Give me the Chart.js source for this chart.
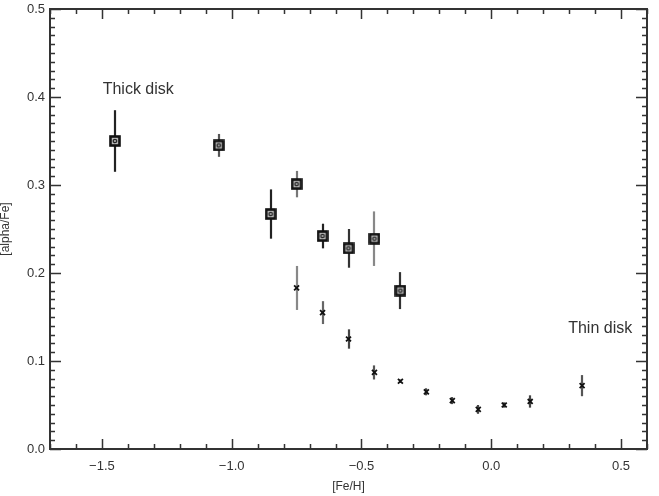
<!DOCTYPE html>
<html>
<head>
<meta charset="utf-8">
<script src="https://cdn.jsdelivr.net/npm/chart.js@4/dist/chart.umd.min.js"></script>
<style>
  html, body { margin: 0; padding: 0; background: #fff; }
  #wrap { width: 659px; height: 496px; }
</style>
</head>
<body>
<div id="wrap"><canvas id="alphaChart"></canvas></div>
<script>
// === DATA ===
const thickFeH = [-1.45, -1.05, -0.85, -0.75, -0.65, -0.55, -0.45, -0.35];
const thickAlpha = [0.350, 0.345, 0.267, 0.301, 0.242, 0.228, 0.239, 0.180];
const thickErr = [0.035, 0.013, 0.028, 0.015, 0.014, 0.022, 0.031, 0.021];

const thinFeH = [-0.75, -0.65, -0.55, -0.45, -0.35, -0.25, -0.15, -0.05, 0.05, 0.15, 0.35];
const thinAlpha = [0.183, 0.155, 0.125, 0.087, 0.077, 0.065, 0.055, 0.045, 0.050, 0.054, 0.072];
const thinErr = [0.025, 0.013, 0.011, 0.008, 0.002, 0.004, 0.004, 0.005, 0.003, 0.007, 0.012];

const xTicks = [-1.5, -1.0, -0.5, 0.0, 0.5];
const yTicks = [0.0, 0.1, 0.2, 0.3, 0.4, 0.5];

// error bar shades (some bars in the original are lighter)
const thickBarColors = ["#222", "#555", "#222", "#777", "#222", "#333", "#888", "#333"];
const thinBarColors = ["#888", "#666", "#444", "#555", "#444", "#444", "#444", "#444", "#444", "#444", "#555"];

const textFont = "'Liberation Sans', Arial, sans-serif";
const axisColor = "#333";

function toPoints(xs, ys) {
  return xs.map((x, i) => ({ x, y: ys[i] }));
}

// square marker with a small ring in the middle
function makeSquareMarker() {
  const c = document.createElement("canvas");
  c.width = 12;
  c.height = 12;
  const g = c.getContext("2d");
  g.fillStyle = "#bbb";
  g.fillRect(1, 1, 10, 10);
  g.strokeStyle = "#111";
  g.lineWidth = 2.6;
  g.strokeRect(1.5, 1.5, 9, 9);
  g.beginPath();
  g.arc(6, 6, 1.7, 0, Math.PI * 2);
  g.lineWidth = 1.3;
  g.strokeStyle = "#222";
  g.stroke();
  return c;
}

// === ERROR BARS, FRAME, TICKS, LABELS ===
const idlFrame = {
  id: "idlFrame",
  beforeDatasetsDraw(chart) {
    const { ctx, scales: { x, y } } = chart;
    const bars = [
      [thickFeH, thickAlpha, thickErr, thickBarColors],
      [thinFeH, thinAlpha, thinErr, thinBarColors]
    ];
    ctx.save();
    ctx.lineWidth = 2.2;
    bars.forEach(([xs, ys, es, cols]) => {
      xs.forEach((v, i) => {
        const px = Math.round(x.getPixelForValue(v));
        ctx.strokeStyle = cols[i];
        ctx.beginPath();
        ctx.moveTo(px, y.getPixelForValue(ys[i] + es[i]));
        ctx.lineTo(px, y.getPixelForValue(ys[i] - es[i]));
        ctx.stroke();
      });
    });
    ctx.restore();
  },
  afterDraw(chart) {
    const { ctx, chartArea: a, scales: { x, y } } = chart;
    ctx.save();
    ctx.strokeStyle = axisColor;
    ctx.lineWidth = 2;
    ctx.strokeRect(a.left, a.top, a.right - a.left, a.bottom - a.top);

    ctx.lineWidth = 1.5;
    ctx.beginPath();
    // x ticks every 0.1, major every 0.5
    for (let k = -17; k <= 6; k++) {
      const v = k / 10;
      const px = Math.round(x.getPixelForValue(v)) + 0.5;
      const len = k % 5 === 0 ? 10 : 5;
      ctx.moveTo(px, a.bottom);
      ctx.lineTo(px, a.bottom - len);
      ctx.moveTo(px, a.top);
      ctx.lineTo(px, a.top + len);
    }
    // y ticks every 0.01, major every 0.1
    for (let k = 0; k <= 50; k++) {
      const v = k / 100;
      const py = Math.round(y.getPixelForValue(v)) + 0.5;
      const len = k % 10 === 0 ? 11 : 5;
      ctx.moveTo(a.left, py);
      ctx.lineTo(a.left + len, py);
      ctx.moveTo(a.right, py);
      ctx.lineTo(a.right - len, py);
    }
    ctx.stroke();

    ctx.fillStyle = "#333";
    ctx.font = `16px ${textFont}`;
    ctx.textBaseline = "middle";
    ctx.textAlign = "left";
    ctx.fillText("Thick disk", x.getPixelForValue(-1.497), y.getPixelForValue(0.408));
    ctx.textAlign = "right";
    ctx.fillText("Thin disk", x.getPixelForValue(0.543), y.getPixelForValue(0.137));
    ctx.restore();
  }
};

const squareMarker = makeSquareMarker();

new Chart(document.getElementById("alphaChart"), {
  type: "scatter",
  data: {
    datasets: [
      {
        label: "Thick disk",
        data: toPoints(thickFeH, thickAlpha),
        pointStyle: squareMarker,
        pointRadius: 6
      },
      {
        label: "Thin disk",
        data: toPoints(thinFeH, thinAlpha),
        pointStyle: "crossRot",
        pointRadius: 3.5,
        borderWidth: 1.8,
        borderColor: "#111",
        backgroundColor: "#111"
      }
    ]
  },
  options: {
    responsive: true,
    maintainAspectRatio: false,
    animation: false,
    layout: { padding: { left: 0, top: 9, right: 12, bottom: 0 } },
    plugins: {
      legend: { display: false },
      tooltip: { enabled: false }
    },
    scales: {
      x: {
        type: "linear",
        min: -1.7,
        max: 0.6,
        afterFit(scale) {
          scale.height = 47;
          scale.paddingLeft = 0;
          scale.paddingRight = 0;
        },
        afterBuildTicks(scale) { scale.ticks = xTicks.map(v => ({ value: v })); },
        grid: { display: false, drawTicks: false },
        border: { display: false },
        ticks: {
          padding: 10,
          color: "#333",
          font: { family: textFont, size: 13 },
          callback: v => (v < 0 ? "\u2212" + Math.abs(v).toFixed(1) : v.toFixed(1))
        },
        title: {
          display: true,
          text: "[Fe/H]",
          color: "#333",
          font: { family: textFont, size: 12 },
          padding: { top: 0, bottom: 2 }
        }
      },
      y: {
        type: "linear",
        min: 0,
        max: 0.5,
        afterFit(scale) {
          scale.width = 50;
          scale.paddingTop = 0;
          scale.paddingBottom = 0;
        },
        afterBuildTicks(scale) { scale.ticks = yTicks.map(v => ({ value: v })); },
        grid: { display: false, drawTicks: false },
        border: { display: false },
        ticks: {
          padding: 5,
          color: "#333",
          font: { family: textFont, size: 13 },
          callback: v => v.toFixed(1)
        },
        title: {
          display: true,
          text: "[alpha/Fe]",
          color: "#333",
          font: { family: textFont, size: 12, lineHeight: 1.0 },
          padding: { top: 0, bottom: 0 }
        }
      }
    }
  },
  plugins: [idlFrame]
});
</script>
</body>
</html>
